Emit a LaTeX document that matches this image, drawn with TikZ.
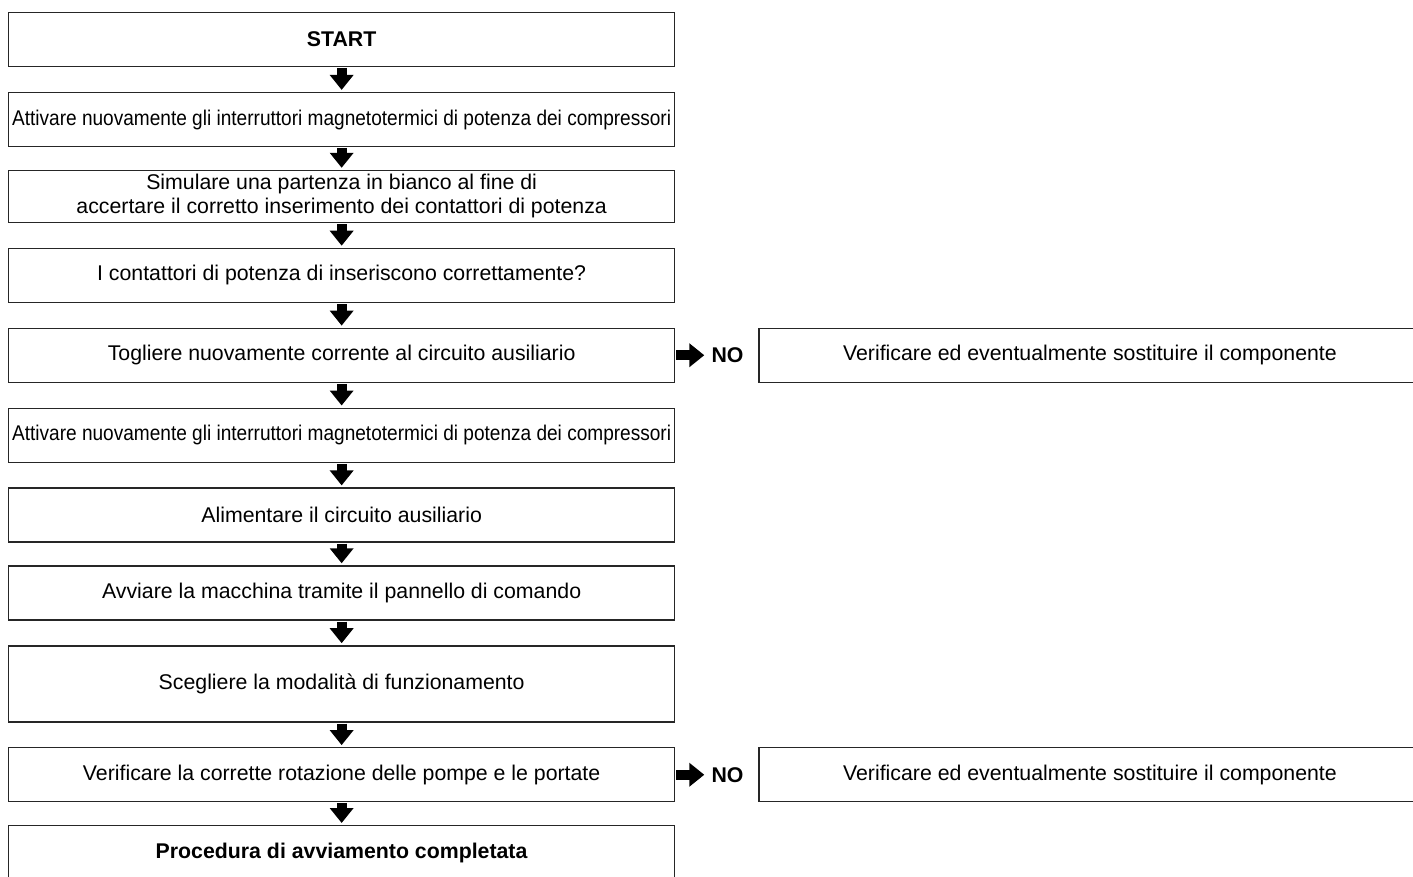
\documentclass[tikz,border=0pt]{standalone}
\usepackage{fontspec}
\setmainfont{Liberation Sans}
\usetikzlibrary{positioning,arrows.meta}

\newcommand{\squeeze}[1]{\scalebox{0.895}[1]{#1}}

\begin{document}
\begin{tikzpicture}[
    x=1pt, y=1pt,
    node distance=24.6pt,
    every node/.style={font=\fontsize{21.3}{24}\selectfont},
    stepbox/.style={draw=black!85, line width=1.3pt, minimum width=666pt,
      minimum height=54pt, inner sep=0pt, align=center},
    sidebox/.style={stepbox, minimum width=662pt},
    arrow/.style={line width=10pt, -{Triangle[length=15pt, width=23pt]},
      shorten <=1pt, shorten >=2pt},
    ]
    \useasboundingbox (0,0) rectangle (1413,-877);

    \node[stepbox, anchor=north west] (start) at (8,-12) {\textbf{START}};
    \node[below=of start, stepbox] (attiva1)
    {\squeeze{Attivare nuovamente gli interruttori magnetotermici di potenza dei compressori}};
    \node[below=22.6pt of attiva1, stepbox, minimum height=52pt] (simula)
    {Simulare una partenza in bianco al fine di\\accertare il corretto inserimento dei contattori di potenza};
    \node[below=of simula, stepbox] (contattori)
    {I contattori di potenza di inseriscono correttamente?};
    \node[below=of contattori, stepbox] (togli)
    {Togliere nuovamente corrente al circuito ausiliario};
    \node[below=of togli, stepbox] (attiva2)
    {\squeeze{Attivare nuovamente gli interruttori magnetotermici di potenza dei compressori}};
    \node[below=of attiva2, stepbox] (alimenta)
    {Alimentare il circuito ausiliario};
    \node[below=22.6pt of alimenta, stepbox] (avvia)
    {Avviare la macchina tramite il pannello di comando};
    \node[below=of avvia, stepbox, minimum height=76pt] (scegli)
    {Scegliere la modalità di funzionamento};
    \node[below=of scegli, stepbox] (verifica)
    {Verificare la corrette rotazione delle pompe e le portate};
    \node[below=22.6pt of verifica, stepbox] (fine)
    {\textbf{Procedura di avviamento completata}};

    % NO branches
    \node[right=36pt of togli, inner sep=0pt] (no1) {\textbf{NO}};
    \node[right=83pt of togli, sidebox, anchor=west] (sost1)
    {Verificare ed eventualmente sostituire il componente};
    \node[right=36pt of verifica, inner sep=0pt] (no2) {\textbf{NO}};
    \node[right=83pt of verifica, sidebox, anchor=west] (sost2)
    {Verificare ed eventualmente sostituire il componente};

    \foreach \a/\b in {start/attiva1, attiva1/simula, simula/contattori,
      contattori/togli, togli/attiva2, attiva2/alimenta, alimenta/avvia,
      avvia/scegli, scegli/verifica, verifica/fine}
      \draw[arrow] (\a.south) -- (\b.north);

    \draw[arrow, shorten <=1pt, shorten >=7pt] (togli.east) -- (no1.west);
    \draw[arrow, shorten <=1pt, shorten >=7pt] (verifica.east) -- (no2.west);
\end{tikzpicture}
\end{document}
